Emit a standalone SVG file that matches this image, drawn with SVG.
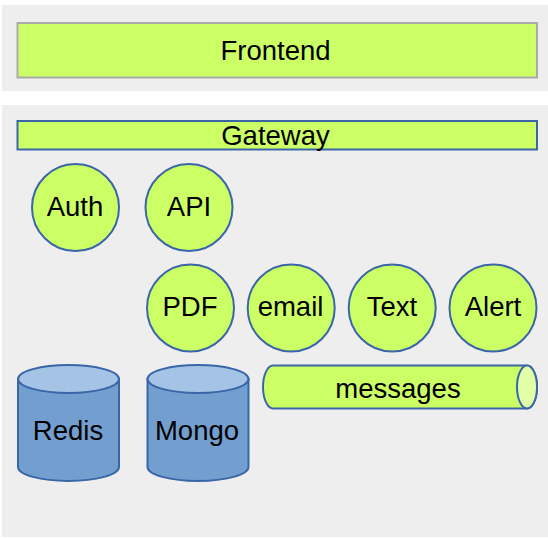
<svg xmlns="http://www.w3.org/2000/svg" width="548" height="538" viewBox="0 0 548 538">
<style>
.grp{fill:#eeeeee;stroke:none}
.node{fill:#ccff66;stroke:#3a66a8;stroke-width:2}
.db{fill:#729fcf;stroke:#3a66a8;stroke-width:2}
.dbtop{fill:#a4c3e5;stroke:#3a66a8;stroke-width:2}
.cap{fill:#e2ffa8;stroke:#3a66a8;stroke-width:2}
text{font-family:"Liberation Sans",Arial,sans-serif;font-size:27.5px;fill:#000;text-anchor:middle}
</style>
<rect class="grp" x="2" y="5" width="546" height="86"/>
<rect class="grp" x="2" y="105" width="546" height="432"/>
<g id="frontend"><rect x="17.5" y="23" width="519.5" height="54.5" fill="#ccff66" stroke="#aaaaaa" stroke-width="2"/><text x="275.5" y="60">Frontend</text></g>
<g id="gateway"><rect class="node" x="17.5" y="121" width="519.5" height="28.5"/><text x="275.5" y="144.5">Gateway</text></g>
<g id="auth"><circle class="node" cx="75.5" cy="207.5" r="43.5"/><text x="75" y="216">Auth</text></g>
<g id="api"><circle class="node" cx="189" cy="207.5" r="43.5"/><text x="189" y="216">API</text></g>
<g id="pdf"><circle class="node" cx="190.5" cy="308" r="43.5"/><text x="190" y="316">PDF</text></g>
<g id="email"><circle class="node" cx="291.2" cy="308" r="43.5"/><text x="290.5" y="316">email</text></g>
<g id="text"><circle class="node" cx="392.2" cy="308" r="43.5"/><text x="392" y="316">Text</text></g>
<g id="alert"><circle class="node" cx="493" cy="308" r="43.5"/><text x="493" y="316">Alert</text></g>
<g id="redis"><path class="db" d="M18,379 L18,467 A50.5,14 0 0 0 119,467 L119,379 Z"/><ellipse class="dbtop" cx="68.5" cy="379" rx="50.5" ry="14"/><text x="68" y="439.5">Redis</text></g>
<g id="mongo"><path class="db" d="M147.5,379 L147.5,467 A50.5,14 0 0 0 248.5,467 L248.5,379 Z"/><ellipse class="dbtop" cx="198" cy="379" rx="50.5" ry="14"/><text x="197" y="439.5">Mongo</text></g>
<g id="messages"><path class="node" d="M273,365.5 L527,365.5 A10,21.5 0 0 1 527,408.5 L273,408.5 A10,21.5 0 0 1 273,365.5 Z"/><ellipse class="cap" cx="527" cy="387" rx="10" ry="21.5"/><text x="398" y="398">messages</text></g>
<g id="connectors"></g>
</svg>
